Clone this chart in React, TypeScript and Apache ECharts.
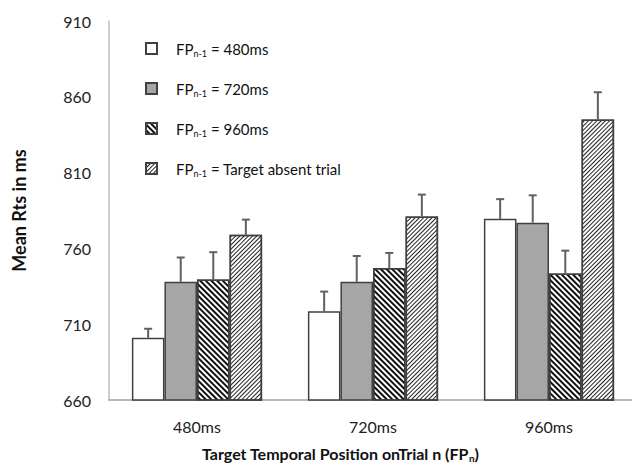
import React, { useEffect, useRef } from "react";
import * as echarts from "echarts";

const categories = ["480ms", "720ms", "960ms"];
const seriesNames = ["FPn-1 = 480ms", "FPn-1 = 720ms", "FPn-1 = 960ms", "FPn-1 = Target absent trial"];
const meanWhite = [701, 718.5, 779.5];
const meanGray = [738, 738, 777];
const meanDark = [739.5, 747, 743.5];
const meanLight = [769, 781, 845];
const errWhite = [6, 13, 13];
const errGray = [16, 17, 18];
const errDark = [18, 10, 15];
const errLight = [10, 14.5, 18];
const yTicks = [660, 710, 760, 810, 860, 910];

const FONT = "Lato, 'Open Sans', sans-serif";
const CAT_GAP = 0.26;

export default function App() {
  const ref = useRef<HTMLDivElement>(null);
  useEffect(() => {
    if (!ref.current) return;
    const chart = echarts.init(ref.current, null, { renderer: "svg" });
    const means = [meanWhite, meanGray, meanDark, meanLight];
    const errs = [errWhite, errGray, errDark, errLight];
    const border = { borderColor: "#404040", borderWidth: 1.5 };
    const styles: any[] = [
      { color: "#ffffff", ...border },
      { color: "#a6a6a6", ...border },
      {
        color: "#ffffff",
        ...border,
        decal: { symbol: "rect", symbolSize: 1, dashArrayX: [1, 0], dashArrayY: [1.6, 1.4], rotation: Math.PI / 4, color: "#111111" },
      },
      {
        color: "#ffffff",
        ...border,
        decal: { symbol: "rect", symbolSize: 1, dashArrayX: [1, 0], dashArrayY: [1, 2], rotation: -Math.PI / 4, color: "#222222" },
      },
    ];
    const barSeries = seriesNames.map((name, i) => ({
      type: "bar",
      name,
      data: means[i],
      barGap: "0%",
      barCategoryGap: CAT_GAP * 100 + "%",
      itemStyle: styles[i],
    }));
    const errData: number[][] = [];
    means.forEach((m, s) => m.forEach((v, c) => errData.push([c, v, errs[s][c], s])));
    const errSeries = {
      type: "custom",
      name: "error",
      data: errData,
      z: 5,
      renderItem: (params: any, api: any) => {
        const c = api.value(0);
        const v = api.value(1);
        const e = api.value(2);
        const s = api.value(3);
        const band = api.size([1, 0])[0];
        const bw = (band * (1 - CAT_GAP)) / 4;
        const base = api.coord([c, v]);
        const top = api.coord([c, v + e]);
        const x = base[0] + (s - 1.5) * bw;
        const st = { stroke: "#606060", lineWidth: 2 };
        return {
          type: "group",
          children: [
            { type: "line", shape: { x1: x, y1: base[1], x2: x, y2: top[1] }, style: st },
            { type: "line", shape: { x1: x - 4, y1: top[1], x2: x + 4, y2: top[1] }, style: st },
          ],
        };
      },
    };
    chart.setOption({
      animation: false,
      backgroundColor: "#ffffff",
      textStyle: { fontFamily: FONT },
      grid: { left: 109, right: 3, top: 21, bottom: 72, containLabel: false },
      legend: {
        data: seriesNames,
        orient: "vertical",
        left: 140,
        top: 36,
        itemWidth: 11,
        itemHeight: 11,
        itemGap: 23,
        icon: "rect",
        formatter: (n: string) => n.replace("FPn-1", "FP{sub|n-1}"),
        textStyle: {
          fontFamily: FONT,
          fontSize: 15,
          color: "#111",
          padding: [0, 0, 0, 14],
          rich: {
            sub: { fontSize: 9, fontFamily: FONT, color: "#111", verticalAlign: "bottom", padding: [10, 0, 0, 0] },
          },
        },
      },
      xAxis: {
        type: "category",
        data: categories,
        axisLine: { lineStyle: { color: "#a0a0a0", width: 1.5 } },
        axisTick: { show: false },
        axisLabel: { fontSize: 16, color: "#222", margin: 18, fontFamily: FONT },
      },
      yAxis: {
        type: "value",
        min: yTicks[0],
        max: yTicks[yTicks.length - 1],
        interval: 50,
        name: "Mean Rts in ms",
        nameLocation: "middle",
        nameRotate: 90,
        nameGap: 81,
        nameTextStyle: { fontSize: 18, fontWeight: "bold", color: "#111", fontFamily: FONT },
        axisLine: { show: true, lineStyle: { color: "#bdbdbd", width: 1.5 } },
        axisTick: { show: false },
        splitLine: { show: false },
        axisLabel: { fontSize: 16, color: "#222", margin: 18, fontFamily: FONT },
      },
      graphic: [
        {
          type: "text",
          left: 202,
          top: 445,
          style: {
            text: "Target Temporal Position onTrial n (FP{sub|n})",
            font: "bold 16px " + FONT,
            fill: "#111",
            rich: {
              sub: { fontSize: 10, fontWeight: "bold", fontFamily: FONT, fill: "#111", verticalAlign: "bottom", padding: [10, 0, 0, 0] },
            },
          },
        },
      ],
      series: [...barSeries, errSeries],
    });
    return () => chart.dispose();
  }, []);
  return <div ref={ref} style={{ width: 640, height: 472, margin: -8 }} />;
}
